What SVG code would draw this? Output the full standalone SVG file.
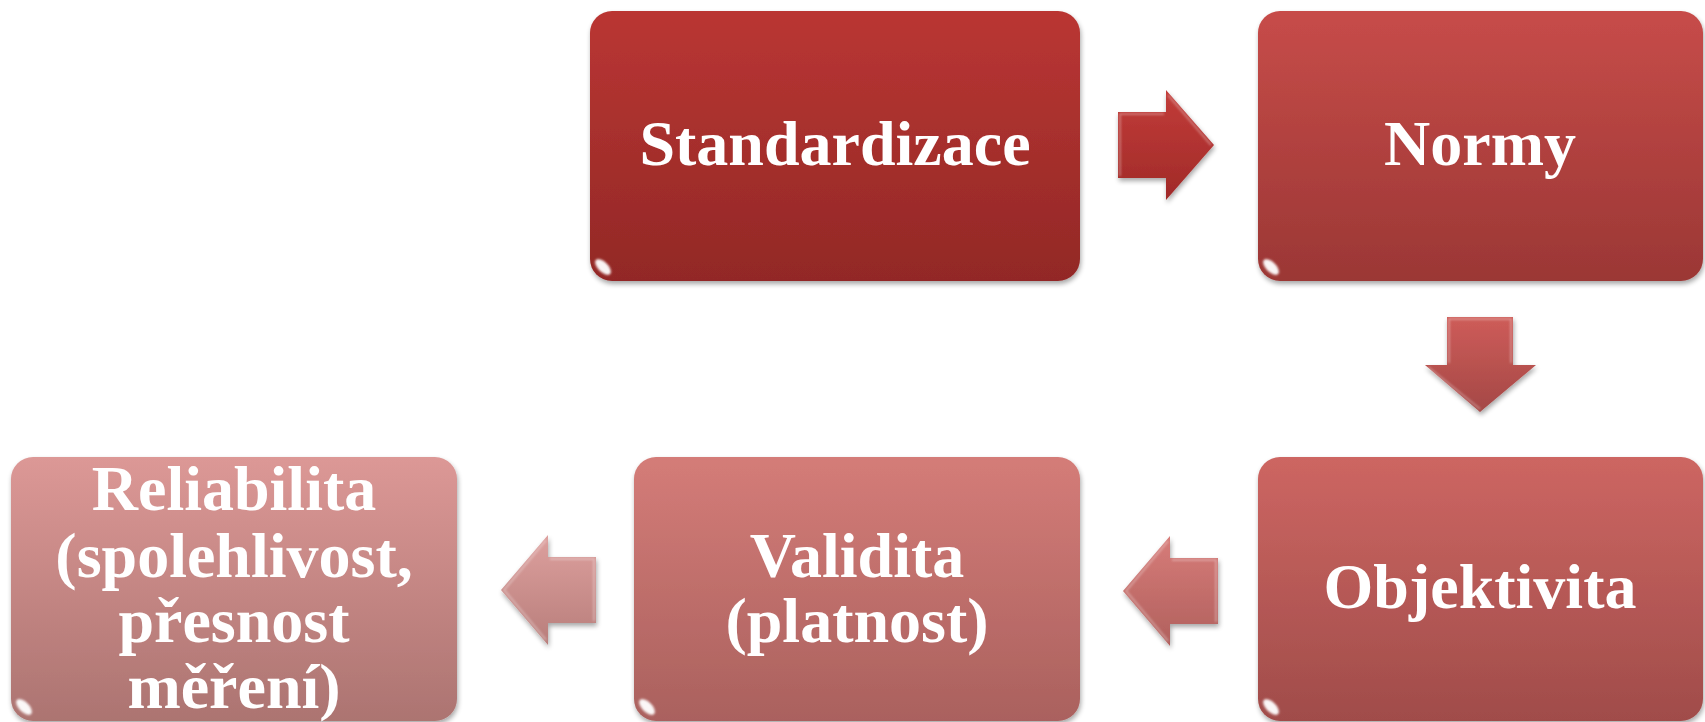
<svg xmlns="http://www.w3.org/2000/svg" width="1705" height="722" viewBox="0 0 1705 722">
  <style>
    .lbl { font-family: "Liberation Serif", "Times New Roman", serif; font-weight: bold; font-size: 64px; fill: #FFFFFF; text-anchor: middle; }
    .hl-top { fill: none; stroke: #FFFFFF; stroke-opacity: 0.5; stroke-width: 5; stroke-linecap: round; filter: url(#soft); }
    .hl-side { fill: none; stroke: #FFFFFF; stroke-opacity: 0.25; stroke-width: 3; stroke-linecap: round; filter: url(#soft); }
    .spot { fill: #FFFFFF; fill-opacity: 0.95; filter: url(#soft); }
    .bevel { fill: none; stroke: #FFFFFF; stroke-opacity: 0.3; stroke-width: 2; filter: url(#soft); }
  </style>
  <defs>
    <filter id="shadow" x="-10%" y="-10%" width="125%" height="125%">
      <feGaussianBlur in="SourceAlpha" stdDeviation="2.5"/>
      <feOffset dx="1" dy="3" result="b"/>
      <feComponentTransfer><feFuncA type="linear" slope="0.35"/></feComponentTransfer>
      <feMerge><feMergeNode/><feMergeNode in="SourceGraphic"/></feMerge>
    </filter>
    <filter id="soft" x="-20%" y="-20%" width="140%" height="140%">
      <feGaussianBlur stdDeviation="1.3"/>
    </filter>
    <linearGradient id="g1" x1="0" y1="0" x2="0" y2="1"><stop offset="0" stop-color="#BA3633"/><stop offset="1" stop-color="#922826"/></linearGradient>
    <linearGradient id="g2" x1="0" y1="0" x2="0" y2="1"><stop offset="0" stop-color="#C74C49"/><stop offset="1" stop-color="#9B3735"/></linearGradient>
    <linearGradient id="g3" x1="0" y1="0" x2="0" y2="1"><stop offset="0" stop-color="#CD6662"/><stop offset="1" stop-color="#A04C4A"/></linearGradient>
    <linearGradient id="g4" x1="0" y1="0" x2="0" y2="1"><stop offset="0" stop-color="#D47C78"/><stop offset="1" stop-color="#AA615E"/></linearGradient>
    <linearGradient id="g5" x1="0" y1="0" x2="0" y2="1"><stop offset="0" stop-color="#DC9896"/><stop offset="1" stop-color="#AC7471"/></linearGradient>
    <linearGradient id="a1" x1="0" y1="0" x2="0" y2="1"><stop offset="0" stop-color="#C23C39"/><stop offset="1" stop-color="#A02A28"/></linearGradient>
    <linearGradient id="a2" x1="0" y1="0" x2="0" y2="1"><stop offset="0" stop-color="#CE5C59"/><stop offset="1" stop-color="#A44846"/></linearGradient>
    <linearGradient id="a3" x1="0" y1="0" x2="0" y2="1"><stop offset="0" stop-color="#D77C79"/><stop offset="1" stop-color="#B0605D"/></linearGradient>
    <linearGradient id="a4" x1="0" y1="0" x2="0" y2="1"><stop offset="0" stop-color="#DDA09E"/><stop offset="1" stop-color="#B87E7B"/></linearGradient>
  </defs>

  <g id="connectors">
    <polygon points="1118,112 1166,112 1166,90 1214,145 1166,200 1166,178 1118,178" fill="url(#a1)" filter="url(#shadow)"/>
    <path class="bevel" d="M1120 176 V114 H1164 M1168 95 L1211 145"/>
    <polygon points="1447,317 1513,317 1513,365 1536,365 1480,412 1425,365 1447,365" fill="url(#a2)" filter="url(#shadow)"/>
    <path class="bevel" d="M1449 363 V319 H1511 V363 M1428 367 L1480 409"/>
    <polygon points="1218,558 1170,558 1170,536 1123,591 1170,646 1170,624 1218,624" fill="url(#a3)" filter="url(#shadow)"/>
    <path class="bevel" d="M1216 622 V560 H1172 M1168 541 L1126 591 L1168 641"/>
    <polygon points="596,557 548,557 548,535 501,590 548,645 548,623 596,623" fill="url(#a4)" filter="url(#shadow)"/>
    <path class="bevel" d="M594 621 V559 H550 M546 540 L504 590 L546 640"/>
  </g>

  <g id="node-standardizace">
    <rect x="590" y="11" width="490" height="270" rx="22" fill="url(#g1)" filter="url(#shadow)"/>
    <path class="hl-top" d="M612 17 H1058"/>
    <path class="hl-side" d="M595 35 V257"/>
    <path class="hl-side" d="M1075 35 V257"/>
    <ellipse class="spot" cx="603" cy="267" rx="10" ry="5" transform="rotate(45 603 267)"/>
    <text class="lbl" x="835" y="165">Standardizace</text>
  </g>

  <g id="node-normy">
    <rect x="1258" y="11" width="445" height="270" rx="22" fill="url(#g2)" filter="url(#shadow)"/>
    <path class="hl-top" d="M1280 17 H1681"/>
    <path class="hl-side" d="M1263 35 V257"/>
    <path class="hl-side" d="M1698 35 V257"/>
    <ellipse class="spot" cx="1271" cy="267" rx="10" ry="5" transform="rotate(45 1271 267)"/>
    <text class="lbl" x="1480" y="165">Normy</text>
  </g>

  <g id="node-objektivita">
    <rect x="1258" y="457" width="445" height="264" rx="22" fill="url(#g3)" filter="url(#shadow)"/>
    <path class="hl-top" d="M1280 463 H1681"/>
    <path class="hl-side" d="M1263 481 V697"/>
    <path class="hl-side" d="M1698 481 V697"/>
    <ellipse class="spot" cx="1271" cy="707" rx="10" ry="5" transform="rotate(45 1271 707)"/>
    <text class="lbl" x="1480" y="608">Objektivita</text>
  </g>

  <g id="node-validita">
    <rect x="634" y="457" width="446" height="264" rx="22" fill="url(#g4)" filter="url(#shadow)"/>
    <path class="hl-top" d="M656 463 H1058"/>
    <path class="hl-side" d="M639 481 V697"/>
    <path class="hl-side" d="M1075 481 V697"/>
    <ellipse class="spot" cx="647" cy="707" rx="10" ry="5" transform="rotate(45 647 707)"/>
    <text class="lbl" x="857" y="577">Validita</text>
    <text class="lbl" x="857" y="642">(platnost)</text>
  </g>

  <g id="node-reliabilita">
    <rect x="11" y="457" width="446" height="264" rx="22" fill="url(#g5)" filter="url(#shadow)"/>
    <path class="hl-top" d="M33 463 H435"/>
    <path class="hl-side" d="M16 481 V697"/>
    <path class="hl-side" d="M452 481 V697"/>
    <ellipse class="spot" cx="24" cy="707" rx="10" ry="5" transform="rotate(45 24 707)"/>
    <text class="lbl" x="234" y="510">Reliabilita</text>
    <text class="lbl" x="234" y="577">(spolehlivost,</text>
    <text class="lbl" x="234" y="642">přesnost</text>
    <text class="lbl" x="234" y="708">měření)</text>
  </g>
</svg>
